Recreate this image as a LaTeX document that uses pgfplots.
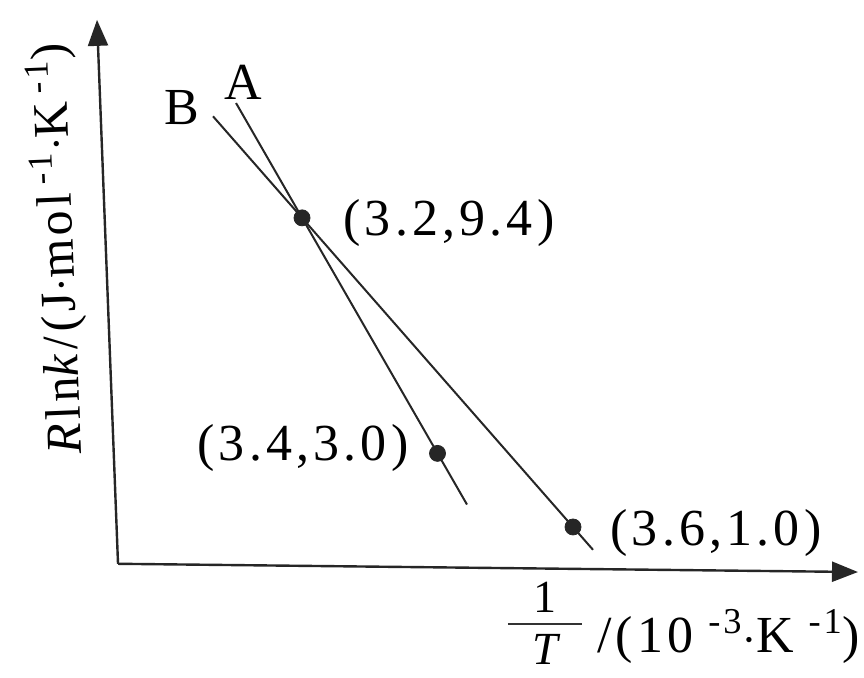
\documentclass[border=0pt]{standalone}
\usepackage{fontspec}
\setmainfont{Liberation Serif}
\newfontfamily\lab{Liberation Serif}[LetterSpace=8]
\usepackage{pgfplots}
\pgfplotsset{compat=1.18}
\usetikzlibrary{arrows.meta}

\begin{document}
\begin{tikzpicture}
\begin{axis}[
  scale only axis,
  width=432pt, height=339pt,
  xmin=2.7542, xmax=4.0295,
  ymin=-3.103, ymax=15.32,
  hide axis,
  clip=false,
]
% reserve the full drawing area
\path (axis cs:2.7542,-3.103) rectangle (axis cs:4.0295,15.32);

% axes with arrow heads
\addplot[line width=1.2pt, black!85, -{Triangle[length=13pt,width=10pt]}]
  coordinates {(2.9284,0) (2.8974,14.78)};
\addplot[line width=1.2pt, black!85, -{Triangle[length=13pt,width=10pt]}]
  coordinates {(2.9284,0) (4.0206,-0.224)};

% straight lines A and B
\addplot[line width=1pt, black!85] coordinates {(3.1026,12.52) (3.4435,1.61)};
\addplot[line width=1pt, black!85] coordinates {(3.0686,12.16) (3.6295,0.38)};

% measured points
\addplot[only marks, mark=*, mark size=4pt, black!85]
  coordinates {(3.2,9.4) (3.4,3.0) (3.6,1.0)};

% labels
\tikzset{lbl/.style={font=\lab\fontsize{26}{30}\selectfont, inner sep=0pt}}
\node[lbl] at (axis cs:3.1129,13.09) {A};
\node[lbl] at (axis cs:3.0228,12.41) {B};
\node[lbl] at (axis cs:3.4169,9.26) {(3.2,9.4)};
\node[lbl] at (axis cs:3.2014,3.146) {(3.4,3.0)};
\node[lbl] at (axis cs:3.8110,0.836) {(3.6,1.0)};

% y axis title
\node[lbl, font=\lab\fontsize{25}{30}\selectfont, rotate=92.3] at (axis cs:2.8398,8.55)
  {\textit{R}ln\textit{k}/(J$\cdot$mol\,\textsuperscript{-1}$\cdot$K\,\textsuperscript{-1})};
% x axis title: 1/T stacked, then the unit
\node[lbl, font=\lab\fontsize{23}{28}\selectfont, anchor=base] at (axis cs:3.5586,-1.310) {1};
\draw[line width=0.8pt, black!80] (axis cs:3.5040,-1.636) -- (axis cs:3.6132,-1.636);
\node[lbl, font=\lab\fontsize{23}{28}\selectfont, anchor=base] at (axis cs:3.5586,-2.723) {\itshape T};
\node[lbl, anchor=base west] at (axis cs:3.6354,-2.397)
  {/(10\,\textsuperscript{\,-3}$\cdot$K\,\textsuperscript{\,-1})};
\end{axis}
\end{tikzpicture}
\end{document}
